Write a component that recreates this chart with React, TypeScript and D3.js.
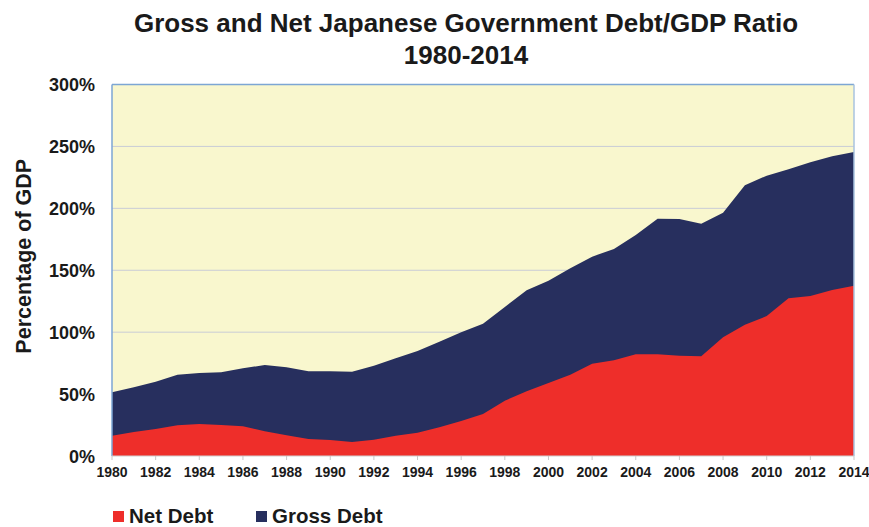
import React from "react";
import * as d3 from "d3";

const years: number[] = [
  1980, 1981, 1982, 1983, 1984, 1985, 1986, 1987, 1988, 1989, 1990, 1991,
  1992, 1993, 1994, 1995, 1996, 1997, 1998, 1999, 2000, 2001, 2002, 2003,
  2004, 2005, 2006, 2007, 2008, 2009, 2010, 2011, 2012, 2013, 2014,
];
const grossDebt: number[] = [
  51.4, 55.5, 60.0, 65.7, 67.0, 67.6, 70.8, 73.5, 71.6, 68.4, 68.4, 68.1,
  72.9, 78.9, 84.8, 92.3, 99.9, 106.8, 120.3, 133.8, 141.6, 151.6, 161.0, 167.2,
  178.5, 191.6, 191.4, 187.6, 196.5, 218.6, 226.4, 231.5, 237.2, 242.0, 245.5,
];
const netDebt: number[] = [
  16.4, 19.4, 21.8, 24.8, 25.8, 25.0, 24.0, 19.9, 16.7, 13.7, 12.9, 11.3,
  13.2, 16.4, 18.8, 23.2, 28.3, 34.0, 44.7, 52.2, 59.0, 65.7, 74.5, 77.3,
  82.1, 82.1, 81.0, 80.5, 95.8, 106.0, 113.0, 127.3, 129.2, 134.0, 137.5,
];
const yTicks: number[] = [0, 50, 100, 150, 200, 250, 300];
const xTickYears: number[] = years.filter((y) => y % 2 === 0);
const titleLines: string[] = ["Gross and Net Japanese Government Debt/GDP Ratio", "1980-2014"];
const legendItems: { label: string; color: string }[] = [
  { label: "Net Debt", color: "#EE2E2A" },
  { label: "Gross Debt", color: "#272F5E" },
];

const W = 869;
const H = 527;
const margin = { left: 112, right: 15, top: 84.5, bottom: 71 };

export default function App() {
  const x = d3
    .scaleLinear()
    .domain([1980, 2014])
    .range([margin.left, W - margin.right]);
  const y = d3
    .scaleLinear()
    .domain([0, 300])
    .range([H - margin.bottom, margin.top]);

  const grossArea = d3
    .area<number>()
    .x((_, i) => x(years[i]))
    .y0(y(0))
    .y1((d) => y(d));
  const netArea = d3
    .area<number>()
    .x((_, i) => x(years[i]))
    .y0(y(0))
    .y1((d) => y(d));

  const font = "'Liberation Sans', Arial, sans-serif";
  const x0 = x(1980);
  const x1 = x(2014);

  return (
    <svg
      width={W}
      height={H}
      style={{ position: "absolute", left: 0, top: 0, background: "#fff" }}
      fontFamily={font}
    >
      {/* plot background */}
      <rect x={x0} y={y(300)} width={x1 - x0} height={y(0) - y(300)} fill="#F9F7CE" />
      {/* gridlines */}
      {yTicks
        .filter((t) => t > 0 && t < 300)
        .map((t) => (
          <line key={t} x1={x0} x2={x1} y1={y(t)} y2={y(t)} stroke="#C9CCD6" strokeWidth={1} />
        ))}
      {/* areas */}
      <path d={grossArea(grossDebt) || ""} fill="#272F5E" />
      <path d={netArea(netDebt) || ""} fill="#EE2E2A" />
      {/* border */}
      <line x1={x0} x2={x1} y1={y(300)} y2={y(300)} stroke="#7DA6D4" strokeWidth={1.5} />
      <line x1={x0} x2={x0} y1={y(300)} y2={y(0)} stroke="#7DA6D4" strokeWidth={1.5} />
      <line x1={x1} x2={x1} y1={y(300)} y2={y(0)} stroke="#A9C3DF" strokeWidth={1.5} />
      <line x1={x0} x2={x1} y1={y(0)} y2={y(0)} stroke="#D0D0D0" strokeWidth={1} />
      {/* x ticks */}
      {xTickYears.map((yr) => (
        <g key={yr}>
          <line x1={x(yr)} x2={x(yr)} y1={y(0)} y2={y(0) + 4} stroke="#C8C8C8" strokeWidth={1} />
          <text
            x={x(yr)}
            y={y(0) + 21}
            textAnchor="middle"
            fontSize={14}
            fontWeight="bold"
            fill="#1a1a1a"
          >
            {yr}
          </text>
        </g>
      ))}
      {/* y tick labels */}
      {yTicks.map((t) => (
        <text
          key={t}
          x={95}
          y={y(t) + 6.5}
          textAnchor="end"
          fontSize={18}
          fontWeight="bold"
          fill="#1a1a1a"
        >
          {t}%
        </text>
      ))}
      {/* y axis title */}
      <text
        transform={`translate(31, ${(y(0) + y(300)) / 2 - 14}) rotate(-90)`}
        textAnchor="middle"
        fontSize={21.5}
        fontWeight="bold"
        fill="#1a1a1a"
      >
        Percentage of GDP
      </text>
      {/* title */}
      {titleLines.map((line, i) => (
        <text
          key={i}
          x={466}
          y={32 + i * 32}
          textAnchor="middle"
          fontSize={26}
          fontWeight="bold"
          fill="#1a1a1a"
        >
          {line}
        </text>
      ))}
      {/* legend */}
      {legendItems.map((item, i) => {
        const lx = 113 + i * 143;
        return (
          <g key={item.label}>
            <rect x={lx} y={511} width={11} height={11} fill={item.color} />
            <text x={lx + 16} y={523} fontSize={20.5} fontWeight="bold" fill="#1a1a1a">
              {item.label}
            </text>
          </g>
        );
      })}
    </svg>
  );
}
